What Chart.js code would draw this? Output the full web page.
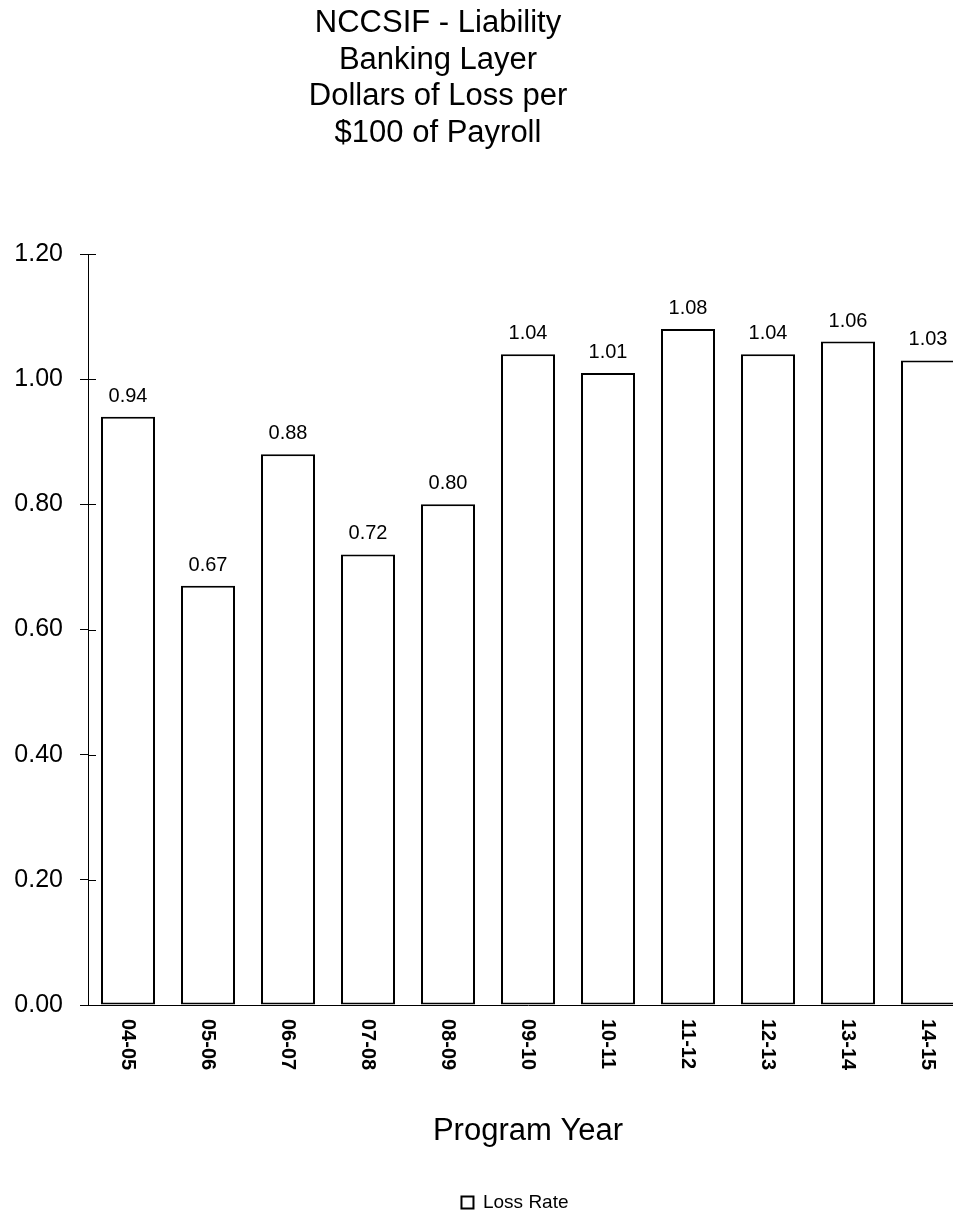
<!DOCTYPE html>
<html>
<head>
<meta charset="utf-8">
<script src="https://cdn.jsdelivr.net/npm/chart.js@4/dist/chart.umd.min.js"></script>
<style>
  html, body { margin: 0; padding: 0; overflow: hidden; background: #fff; }
  #chartLoss { display: block; }
</style>
</head>
<body>
<canvas id="chartLoss" width="1030" height="1213"></canvas>
<script>
const program_years = ["04-05", "05-06", "06-07", "07-08", "08-09", "09-10", "10-11", "11-12", "12-13", "13-14", "14-15"];
const loss_rates = [0.94, 0.67, 0.88, 0.72, 0.80, 1.04, 1.01, 1.08, 1.04, 1.06, 1.03];
const y_ticks = [0, 0.2, 0.4, 0.6, 0.8, 1.0, 1.2];
const title_lines = ["NCCSIF - Liability", "Banking Layer", "Dollars of Loss per", "$100 of Payroll"];

const FONT = "'Liberation Sans', Arial, sans-serif";
Chart.defaults.font.family = FONT;
Chart.defaults.color = "#000";

// title is centred left of the plot, so draw it ourselves
const titlePlugin = {
  id: "titleLines",
  afterLayout(chart) {
    // legend sits centred under the whole (wider) chart in the original
    chart.legend.left = 62;
  },
  afterDraw(chart) {
    const ctx = chart.ctx;
    ctx.save();
    ctx.font = "31px " + FONT;
    ctx.fillStyle = "#000";
    ctx.textAlign = "center";
    ctx.textBaseline = "alphabetic";
    title_lines.forEach((line, i) => {
      ctx.fillText(line, 438, 32 + i * 36.7);
    });
    ctx.restore();
  },
};

// value above each bar
const valueLabels = {
  id: "valueLabels",
  afterDatasetsDraw(chart) {
    const ctx = chart.ctx;
    const meta = chart.getDatasetMeta(0);
    ctx.save();
    ctx.font = "20px " + FONT;
    ctx.fillStyle = "#000";
    ctx.textAlign = "center";
    ctx.textBaseline = "alphabetic";
    meta.data.forEach((bar, i) => {
      ctx.fillText(loss_rates[i].toFixed(2), bar.x, bar.y - 15);
    });
    ctx.restore();
  },
};

// category labels read top to bottom, plus the short tick stubs inside the axis
const xLabels = {
  id: "xLabels",
  afterDraw(chart) {
    const ctx = chart.ctx;
    const xScale = chart.scales.x;
    const yScale = chart.scales.y;
    ctx.save();
    ctx.font = "bold 20px " + FONT;
    ctx.fillStyle = "#000";
    ctx.textAlign = "left";
    ctx.textBaseline = "middle";
    program_years.forEach((label, i) => {
      ctx.save();
      ctx.translate(xScale.getPixelForValue(i), chart.chartArea.bottom + 14);
      ctx.rotate(Math.PI / 2);
      ctx.fillText(label, 0, 0);
      ctx.restore();
    });
    ctx.strokeStyle = "#000";
    ctx.lineWidth = 1;
    const left = chart.chartArea.left;
    y_ticks.forEach((v) => {
      const y = Math.round(yScale.getPixelForValue(v)) + 0.5;
      ctx.beginPath();
      ctx.moveTo(left, y);
      ctx.lineTo(left + 8, y);
      ctx.stroke();
    });
    ctx.restore();
  },
};

const chartLoss = document.getElementById("chartLoss");
const config = {
  type: "bar",
  data: {
    labels: program_years,
    datasets: [
      {
        label: "Loss Rate",
        data: loss_rates,
        backgroundColor: "#fff",
        borderColor: "#000",
        borderWidth: 2,
        borderSkipped: false,
        categoryPercentage: 1,
        barPercentage: 0.675,
      },
    ],
  },
  options: {
    responsive: false,
    animation: false,
    layout: { padding: { top: 254, right: 62, bottom: -9, left: 0 } },
    plugins: {
      tooltip: { enabled: false },
      title: { display: false },
      legend: {
        position: "bottom",
        labels: { font: { size: 19 }, boxWidth: 12, boxHeight: 12, padding: 10, color: "#000" },
      },
    },
    scales: {
      x: {
        grid: { display: false },
        border: { display: true, color: "#000", width: 1 },
        ticks: { display: false },
        title: {
          display: true,
          text: "Program Year",
          font: { size: 31 },
          color: "#000",
          padding: { top: 0, bottom: 33 },
        },
        afterFit(scale) {
          scale.height = 178;
        },
      },
      y: {
        min: 0,
        max: 1.2,
        afterBuildTicks(scale) {
          scale.ticks = y_ticks.map((v) => ({ value: v }));
        },
        grid: { drawOnChartArea: false, drawTicks: true, tickLength: 8, color: "#000" },
        border: { color: "#000", width: 1 },
        ticks: {
          font: { size: 25 },
          color: "#000",
          padding: 17,
          callback: (v) => Number(v).toFixed(2),
        },
        afterFit(scale) {
          scale.width = 88;
        },
      },
    },
  },
  plugins: [titlePlugin, valueLabels, xLabels],
};
const lossChart = new Chart(chartLoss, config);
</script>
</body>
</html>
